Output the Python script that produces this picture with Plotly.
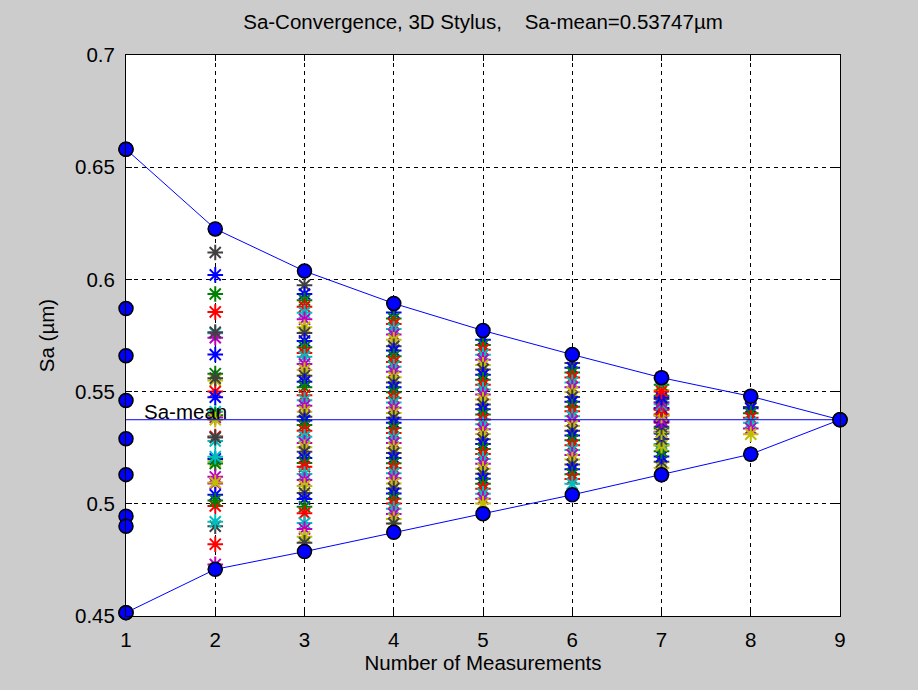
import plotly.graph_objects as go

# ---------------- data ----------------
n_meas = [1, 2, 3, 4, 5, 6, 7, 8, 9]
sa_single = [0.658, 0.587, 0.566, 0.546, 0.529, 0.513, 0.4945, 0.490, 0.4515]
sa_mean = 0.53747
sa_max = [0.658, 0.6225, 0.6037, 0.5893, 0.5772, 0.5665, 0.5562, 0.5479, 0.53747]
sa_min = [0.4515, 0.4708, 0.4787, 0.4873, 0.4956, 0.5040, 0.5129, 0.5221, 0.53747]

stars_n2 = [0.6225, 0.612, 0.602, 0.5935, 0.5855, 0.576, 0.574, 0.555, 0.5765, 0.5665,
            0.558, 0.550, 0.541, 0.5385, 0.519, 0.556, 0.5475, 0.5395, 0.530, 0.528,
            0.509, 0.5375, 0.5295, 0.520, 0.518, 0.499, 0.521, 0.512, 0.5095, 0.490,
            0.504, 0.5015, 0.482, 0.492, 0.473, 0.4708]
stars_n3 = [0.5974, 0.5935, 0.5907, 0.5878, 0.5851, 0.5822, 0.5787, 0.5761, 0.5726, 0.5698,
            0.5672, 0.5655, 0.5623, 0.5596, 0.5571, 0.5544, 0.5519, 0.5484, 0.5462, 0.5437,
            0.5410, 0.5388, 0.5371, 0.5351, 0.5326, 0.5299, 0.5271, 0.5252, 0.5232, 0.5204,
            0.5182, 0.5165, 0.5133, 0.5106, 0.5079, 0.5048, 0.5021, 0.4987, 0.4958, 0.4914,
            0.4888, 0.4853, 0.4826]
stars_n4 = [0.5852, 0.5826, 0.5801, 0.5779, 0.5754, 0.5731, 0.5702, 0.5683, 0.5658, 0.5632,
            0.5611, 0.5588, 0.5564, 0.5541, 0.5519, 0.5497, 0.5472, 0.5451, 0.5428, 0.5405,
            0.5383, 0.5361, 0.5338, 0.5316, 0.5293, 0.5271, 0.5249, 0.5226, 0.5204, 0.5181,
            0.5159, 0.5136, 0.5114, 0.5091, 0.5068, 0.5046, 0.5023, 0.5001, 0.4978, 0.4955,
            0.4932, 0.4912]
stars_n5 = [0.5731, 0.5708, 0.5686, 0.5664, 0.5642, 0.5619, 0.5598, 0.5575, 0.5553, 0.5531,
            0.5509, 0.5487, 0.5465, 0.5443, 0.5421, 0.5398, 0.5376, 0.5354, 0.5332, 0.5311,
            0.5288, 0.5266, 0.5244, 0.5222, 0.5200, 0.5178, 0.5156, 0.5134, 0.5112, 0.5089,
            0.5067, 0.5045, 0.5023, 0.5001]
stars_n6 = [0.5628, 0.5606, 0.5585, 0.5563, 0.5541, 0.5519, 0.5498, 0.5476, 0.5455, 0.5433,
            0.5412, 0.5390, 0.5369, 0.5347, 0.5326, 0.5304, 0.5283, 0.5261, 0.5240, 0.5218,
            0.5197, 0.5175, 0.5154, 0.5132, 0.5111, 0.5089]
stars_n7 = [0.5129, 0.5159, 0.5187, 0.5211, 0.5234, 0.5261, 0.5267, 0.5321, 0.5260, 0.5289,
            0.5313, 0.5336, 0.5361, 0.5369, 0.5424, 0.5319, 0.5343, 0.5366, 0.5393, 0.5399,
            0.5453, 0.5371, 0.5394, 0.5421, 0.5427, 0.5481, 0.5419, 0.5444, 0.5451, 0.5507,
            0.5467, 0.5474, 0.5530, 0.5501, 0.5556, 0.5562]
stars_n8 = [0.5479, 0.5431, 0.5426, 0.5403, 0.5383, 0.5361, 0.5336, 0.5310, 0.5221]

star_columns = {2: stars_n2, 3: stars_n3, 4: stars_n4, 5: stars_n5,
                6: stars_n6, 7: stars_n7, 8: stars_n8}

x_ticks = [1, 2, 3, 4, 5, 6, 7, 8, 9]
y_ticks = [0.45, 0.5, 0.55, 0.6, 0.65, 0.7]
y_ticktext = ["0.45", "0.5", "0.55", "0.6", "0.65", "0.7"]

title_text = "Sa-Convergence, 3D Stylus,\u00a0\u00a0\u00a0 Sa-mean=0.53747\u00b5m"

# ---------------- styles ----------------
matlab_colors = ["#0000ff", "#008000", "#ff0000", "#00bfbf", "#bf00bf", "#bfbf00", "#404040"]
FONT = "Liberation Sans, Arial, sans-serif"
FS = 20.5

fig = go.Figure()

k = 5
for n, vals in star_columns.items():
    cols = []
    for _ in vals:
        cols.append(matlab_colors[k % len(matlab_colors)])
        k += 1
    fig.add_trace(go.Scatter(
        x=[n] * len(vals), y=vals, mode="markers",
        marker=dict(symbol="asterisk-open", size=13, color=cols,
                    line=dict(width=2, color=cols)),
        cliponaxis=False, showlegend=False, hoverinfo="y"))

# mean line
fig.add_trace(go.Scatter(x=[n_meas[0], n_meas[-1]], y=[sa_mean, sa_mean], mode="lines",
                         line=dict(color="#0000ff", width=1), showlegend=False))

circle = dict(symbol="circle", size=14, color="#0000ff", line=dict(color="black", width=1.5))
fig.add_trace(go.Scatter(x=n_meas, y=sa_max, mode="lines+markers",
                         line=dict(color="#0000ff", width=1), marker=circle,
                         cliponaxis=False, showlegend=False))
fig.add_trace(go.Scatter(x=n_meas, y=sa_min, mode="lines+markers",
                         line=dict(color="#0000ff", width=1), marker=circle,
                         cliponaxis=False, showlegend=False))
fig.add_trace(go.Scatter(x=[1] * len(sa_single), y=sa_single, mode="markers",
                         marker=circle, cliponaxis=False, showlegend=False))

fig.add_annotation(x=1.18, y=0.5412, xref="x", yref="y", text="Sa-mean",
                   showarrow=False, xanchor="left", yanchor="middle",
                   font=dict(family=FONT, size=FS, color="black"))

axis_common = dict(showline=True, linecolor="black", linewidth=1, mirror="ticks",
                   ticks="inside", ticklen=6, tickcolor="black",
                   showgrid=True, gridcolor="black", gridwidth=1, griddash="4px,4px",
                   zeroline=False, tickfont=dict(family=FONT, size=FS, color="black"))

fig.update_xaxes(range=[1, 9], tickvals=x_ticks, ticklabelstandoff=5,
                 title=dict(text="Number of Measurements", standoff=6,
                            font=dict(family=FONT, size=FS, color="black")),
                 **axis_common)
fig.update_yaxes(range=[0.45, 0.7], tickvals=y_ticks, ticktext=y_ticktext,
                 ticklabelstandoff=6,
                 title=dict(text="Sa (\u00b5m)", standoff=14,
                            font=dict(family=FONT, size=FS, color="black")),
                 **axis_common)

fig.update_layout(
    width=918, height=690,
    paper_bgcolor="#cccccc", plot_bgcolor="white",
    margin=dict(l=126, r=78, t=55, b=74),
    title=dict(text=title_text, x=0.5, xref="paper", y=1 - 22 / 690, yref="container",
               xanchor="center", yanchor="middle",
               font=dict(family=FONT, size=FS, color="black")),
    font=dict(family=FONT, size=FS, color="black"),
)

fig.write_html("out.html",
               config={"displayModeBar": False},
               post_script="document.body.style.margin='0';"
                           "document.body.style.background='#cccccc';")
